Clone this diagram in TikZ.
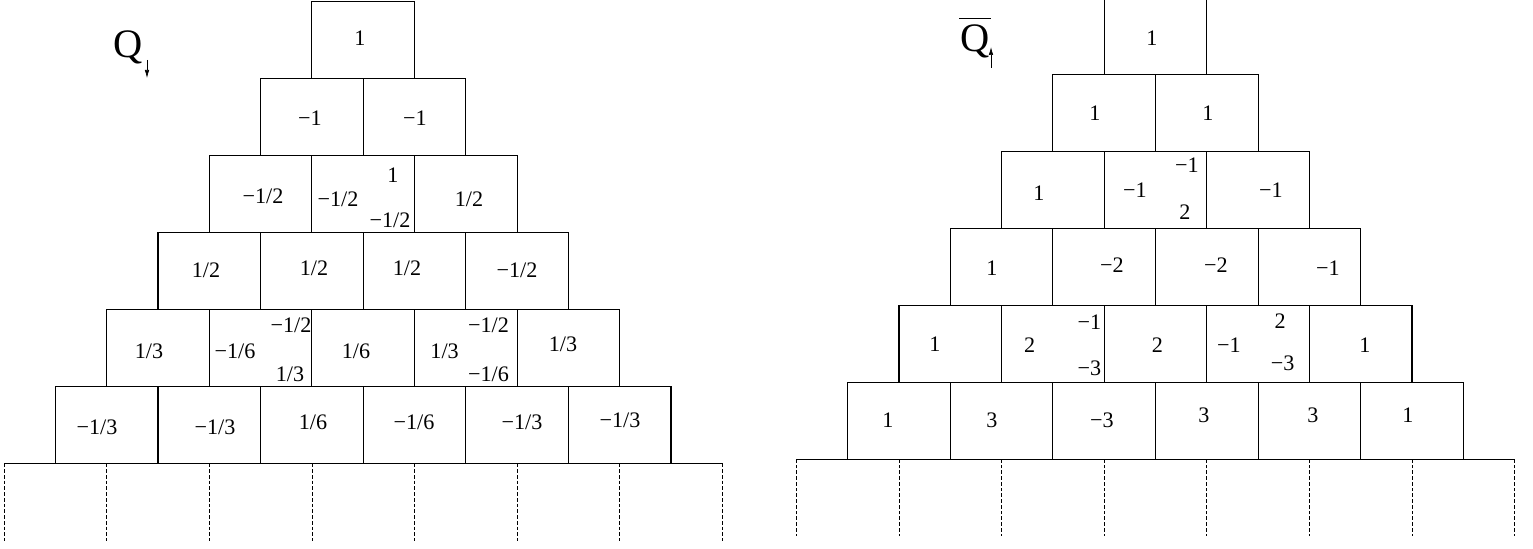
\documentclass[tikz,border=0pt]{standalone}
\usepackage{fontspec}
\setmainfont{Liberation Serif}
\usetikzlibrary{arrows.meta}
\newcommand\pyramidboxes{}
\def\pyramidboxes{
	\foreach \r in {1,...,6}
		\foreach \c in {1,...,\r}
			\draw ({(\c-1-\r/2)*20.52mm},{(6-\r)*15.4mm}) rectangle ++(20.52mm,15.4mm);
}
\newcommand\pyramidbase{}
\def\pyramidbase{
	\draw (-71.82mm,0mm) -- (71.82mm,0mm);
	\foreach \j in {0,...,7}
		\draw [dashed, dash pattern=on 0.6mm off 0.55mm, line width=0.45pt] ({(\j-3.5)*20.52mm},0mm) -- ++(0mm,-15.3mm);
}

\begin{document}
\begin{tikzpicture}[line cap=rect,line width=0.6pt,
	num/.style={font=\fontsize{12.6}{15}\selectfont, inner sep=0pt},
	big/.style={font=\fontsize{23}{26}\selectfont, inner sep=0pt, anchor=base}]

\useasboundingbox (0mm,0mm) rectangle (306.6mm,109.6mm);

% Q with down arrow
\node[big] (q) at (25.7mm,98mm) {Q};
\coordinate (qtop) at (29.4mm,97.6mm);
\draw [-{Latex[length=1.6mm,width=0.9mm]}, line width=0.4pt, line cap=butt] (qtop) -- ++(0mm,-3.6mm);

% Q bar with up arrow
\node[big] (qbar) at (195mm,99.2mm) {Q};
\draw [line width=0.5pt] ([yshift=1.2mm]qbar.north west) -- ([yshift=1.2mm]qbar.north east);
\coordinate (qbarfoot) at (198.2mm,96mm);
\draw [-{Latex[length=1.6mm,width=0.9mm]}, line width=0.4pt, line cap=butt] (qbarfoot) -- ++(0mm,4.2mm);

% Left pyramid
\begin{scope}[shift={(72.64mm,16.86mm)}]
	\pyramidboxes
	\pyramidbase
	\foreach \x/\y/\lbl [count=\i] in
	{
		-0.64/85.14/1,
		-10.64/69.14/{−1}, 10.36/69.14/{−1},
		-20.04/53.54/{−1/2}, -5.04/52.94/{−1/2}, 5.96/57.74/1, 5.36/48.74/{−1/2}, 21.16/52.94/{1/2},
		-31.44/38.74/{1/2}, -9.84/39.14/{1/2}, 8.76/39.14/{1/2}, 30.76/38.74/{−1/2},
		-42.84/22.54/{1/3}, -25.64/22.54/{−1/6}, -14.44/27.64/{−1/2}, -14.64/17.94/{1/3},
		-1.44/22.54/{1/6}, 16.28/22.54/{1/3}, 25.06/27.64/{−1/2}, 25.06/17.94/{−1/6}, 39.96/23.94/{1/3},
		-53.24/7.34/{−1/3}, -29.64/7.34/{−1/3}, -10.04/8.34/{1/6}, 10.16/8.34/{−1/6},
		31.76/8.34/{−1/3}, 51.36/8.74/{−1/3}
	}
	{
		\node[num] (lq-\i) at (\x mm,\y mm) {\lbl};
	}
\end{scope}

% Right pyramid
\begin{scope}[shift={(231.1mm,17.74mm)}]
	\pyramidboxes
	\pyramidbase
	\foreach \x/\y/\lbl [count=\i] in
	{
		-0.7/84.26/1,
		-12.1/69.26/1, 10.5/69.26/1,
		-23.3/53.26/1, -4.1/53.86/{−1}, 6.3/58.86/{−1}, 5.9/49.46/2, 23.1/53.86/{−1},
		-32.7/38.26/1, -8.7/38.86/{−2}, 12.1/38.86/{−2}, 34.5/38.26/{−1},
		-44.1/23.06/1, -25.18/22.86/2, -13.22/27.52/{−1}, -13.22/18.16/{−3}, 0.38/22.86/2,
		14.7/22.86/{−1}, 24.92/27.72/2, 25.42/19.16/{−3}, 41.9/22.86/1,
		-53.5/7.86/1, -32.7/7.86/3, -10.7/7.86/{−3}, 9.7/8.86/3, 31.5/8.86/3, 50.5/8.86/1
	}
	{
		\node[num] (rq-\i) at (\x mm,\y mm) {\lbl};
	}
\end{scope}

\end{tikzpicture}
\end{document}
